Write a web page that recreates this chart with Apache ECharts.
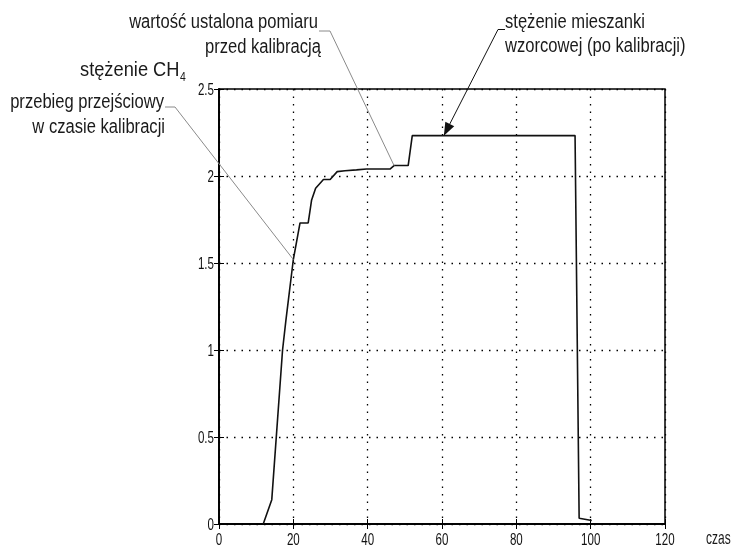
<!DOCTYPE html>
<html><head><meta charset="utf-8">
<script src="https://cdn.jsdelivr.net/npm/echarts@6/dist/echarts.min.js"></script>
<style>html,body{margin:0;padding:0;background:#fff}#c{width:736px;height:548px}</style>
</head><body><div id="c"></div>
<script>
// time (x) values of the measured curve
const timeValues = [11.9, 14.2, 17.1, 18.0, 20.0, 21.8, 24.0, 24.9, 26.0, 28.1, 29.9, 31.8, 33.9, 37.0, 39.7, 46.0, 47.1, 50.9, 52.0, 95.8, 96.9, 100.3];
// concentration values
const concValues = [0, 0.14, 1.0, 1.17, 1.52, 1.73, 1.73, 1.86, 1.93, 1.98, 1.98, 2.025, 2.03, 2.035, 2.04, 2.04, 2.06, 2.06, 2.232, 2.232, 0.033, 0.02];
const xTicks = [0, 20, 40, 60, 80, 100, 120];
const yTicks = [0, 0.5, 1, 1.5, 2, 2.5];
const xLabel = 'czas';
const yLabel = 'stężenie CH';
const yLabelSub = '4';
const noteTransient = ['przebieg przejściowy', 'w czasie kalibracji'];
const noteSteady = ['wartość ustalona pomiaru', 'przed kalibracją'];
const noteStandard = ['stężenie mieszanki', 'wzorcowej (po kalibracji)'];
// anchor points of the leader lines (data coordinates)
const anchorTransient = [20.0, 1.52];
const anchorSteady = [47.1, 2.06];
const anchorStandard = [60.5, 2.232];

const FONT = "'Liberation Sans', Arial, sans-serif";
const chart = echarts.init(document.getElementById('c'), null, {renderer: 'canvas'});
const data = timeValues.map((t, i) => [t, concValues[i]]);
const axisCommon = {
  type: 'value',
  axisLine: {show: true, lineStyle: {color: '#000', width: 1.5}},
  axisTick: {show: true, inside: true, length: 5, lineStyle: {color: '#000', width: 1}},
  axisLabel: {show: false},
  splitLine: {show: true, lineStyle: {color: '#000', type: [1.5, 6], width: 1.3}},
};
const xMin = xTicks[0], xMax = xTicks[xTicks.length - 1];
const yMin = yTicks[0], yMax = yTicks[yTicks.length - 1];
chart.setOption({
  animation: false,
  grid: {left: 219, right: 71, top: 89, bottom: 24, show: true, borderColor: '#000', borderWidth: 1.5},
  xAxis: [
    Object.assign({}, axisCommon, {min: xMin, max: xMax, interval: 20, position: 'bottom'}),
    Object.assign({}, axisCommon, {min: xMin, max: xMax, interval: 20, position: 'top', splitLine: {show: false}})
  ],
  yAxis: [
    Object.assign({}, axisCommon, {min: yMin, max: yMax, interval: 0.5, position: 'left'}),
    Object.assign({}, axisCommon, {min: yMin, max: yMax, interval: 0.5, position: 'right', splitLine: {show: false}})
  ],
  series: [{
    type: 'line', data: data, showSymbol: false, symbol: 'none',
    lineStyle: {color: '#111', width: 1.6}, z: 5
  }]
});

function P(pt) { return chart.convertToPixel({gridIndex: 0}, pt); }
const graphics = [];
function addText(str, x, y, align, size, sx, color) {
  graphics.push({type: 'text', x: x, y: y, scaleX: sx, scaleY: 1,
    style: {text: str, textAlign: align, textVerticalAlign: 'middle', fontFamily: FONT, fontSize: size, fill: color || '#1a1a1a'}, z: 10});
}
// tick labels (condensed)
xTicks.forEach(v => { const p = P([v, 0]); addText(String(v), p[0], 540, 'center', 17, 0.68, '#111'); });
yTicks.forEach(v => { const p = P([0, v]); addText(String(v), 214, p[1] + 1, 'right', 17, 0.68, '#111'); });
// Axis titles
addText(xLabel, 706, 539, 'left', 19, 0.63);
addText(yLabel, 80, 70, 'left', 21, 0.87);
addText(yLabelSub, 180, 77, 'left', 13, 0.8);
// Notes
addText(noteSteady[0], 318, 23, 'right', 19.5, 0.85);
addText(noteSteady[1], 321, 48, 'right', 19.5, 0.85);
addText(noteTransient[0], 164, 103, 'right', 19.5, 0.85);
addText(noteTransient[1], 165, 128, 'right', 19.5, 0.85);
addText(noteStandard[0], 505, 23, 'left', 19.5, 0.85);
addText(noteStandard[1], 505, 47, 'left', 19.5, 0.85);

// leader lines
const grey = {stroke: '#8a8a8a', lineWidth: 1, fill: null};
const a1 = P(anchorTransient);
graphics.push({type: 'polyline', shape: {points: [[165, 107], [175, 107], a1]}, style: grey, z: 8});
const a2 = P(anchorSteady);
graphics.push({type: 'polyline', shape: {points: [[319, 31], [330, 31], a2]}, style: grey, z: 8});
const a3 = P(anchorStandard);
const start3 = [498, 29.5];
graphics.push({type: 'polyline', shape: {points: [[505, 29.5], start3, a3]}, style: {stroke: '#111', lineWidth: 1, fill: null}, z: 8});
// arrow head
const dx = a3[0] - start3[0], dy = a3[1] - start3[1];
const L = Math.hypot(dx, dy), ux = dx / L, uy = dy / L;
const hl = 13, hw = 5;
const bx = a3[0] - ux * hl, by = a3[1] - uy * hl;
graphics.push({type: 'polygon', shape: {points: [a3, [bx - uy * hw, by + ux * hw], [bx + uy * hw, by - ux * hw]]}, style: {fill: '#111'}, z: 9});
chart.setOption({graphic: graphics});
</script></body></html>
